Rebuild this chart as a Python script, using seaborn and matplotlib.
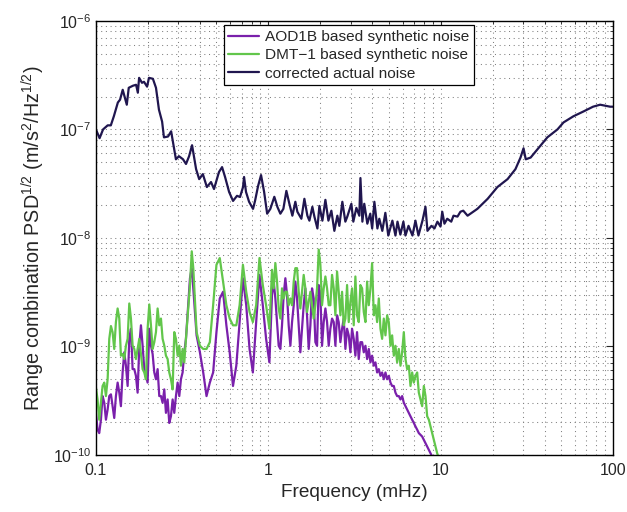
import numpy as np
import pandas as pd
import matplotlib
matplotlib.use('Agg')
import matplotlib.pyplot as plt
import matplotlib.ticker as mticker
import seaborn as sns

# ---- DATA ----
# corrected actual noise: frequency in mHz, PSD in units of 1e-8
nav_freq = [0.1, 0.105, 0.11, 0.117, 0.122, 0.127, 0.134, 0.138, 0.143, 0.151, 0.155, 0.164,
            0.171, 0.175, 0.178, 0.185, 0.19, 0.198, 0.203, 0.214, 0.223, 0.232, 0.242, 0.248,
            0.262, 0.273, 0.28, 0.291, 0.303, 0.32, 0.333, 0.347, 0.361, 0.381, 0.397, 0.417,
            0.44, 0.465, 0.484, 0.517, 0.539, 0.561, 0.592, 0.624, 0.658, 0.685, 0.713, 0.723,
            0.742, 0.773, 0.815, 0.837, 0.872, 0.907, 0.945, 0.984,
            1.027, 1.083, 1.128, 1.174, 1.222, 1.272, 1.324, 1.378, 1.434, 1.473, 1.554, 1.618,
            1.684, 1.73, 1.8, 1.849, 1.925, 1.977, 2.058, 2.142, 2.23, 2.32, 2.414, 2.513, 2.58,
            2.686, 2.796, 2.87, 3.03, 3.11, 3.24, 3.37, 3.42, 3.51, 3.6, 3.75, 3.9, 4.0, 4.12,
            4.29, 4.4, 4.58, 4.77, 4.96, 5.24, 5.46, 5.61, 5.83, 6.07, 6.24, 6.5, 6.85, 7.13,
            7.42, 7.83, 8.15, 8.37, 8.83, 9.19, 9.56, 9.96, 10.2, 10.5, 10.9, 11.5, 11.85, 12.5,
            13.0, 13.5, 14.3, 16.3, 18.7, 21.3, 24.4, 27.1, 29.0, 30.2, 31.1, 33.2, 36.5, 41.5,
            47.5, 51.5, 58.7, 67.0, 76.4, 84.0, 96.0, 100.0]
nav_psd = [10.0, 8.3, 10.0, 10.9, 10.9, 13.2, 17.7, 18.8, 23.2, 16.9, 24.2, 25.3,
           25.8, 21.8, 29.9, 26.9, 27.5, 24.8, 29.9, 29.3, 24.2, 15.2, 11.8, 8.45,
           8.6, 9.6, 7.6, 5.3, 5.66, 5.3, 4.8, 5.66, 7.15, 4.3, 3.48, 3.87,
           2.94, 3.27, 2.82, 4.04, 4.49, 3.64, 2.65, 2.19, 2.44, 2.38, 2.94, 3.64,
           2.65, 2.15, 1.85, 2.19, 3.01, 3.79, 2.65, 1.67,
           1.85, 2.39, 1.93, 1.67, 1.85, 2.71, 2.06, 1.6, 2.15, 1.74, 1.5, 2.29,
           1.6, 1.44, 1.93, 1.57, 1.22, 1.97, 1.44, 2.24, 1.44, 1.78, 1.16, 1.6, 1.29,
           2.15, 1.41, 1.57, 2.06, 1.41, 1.89, 1.6, 3.56, 1.41, 2.06, 1.35, 1.67, 1.22, 2.15,
           1.22, 1.5, 1.16, 1.7, 1.05, 1.44, 1.05, 1.41, 1.07, 1.41, 1.05, 1.29, 1.05, 1.44,
           1.05, 1.44, 1.93, 1.16, 1.29, 1.22, 1.41, 1.27, 1.74, 1.35, 1.5, 1.41, 1.6, 1.57,
           1.74, 1.78, 1.6, 1.85, 2.29, 2.94, 3.48, 4.3, 5.5, 6.7, 5.3, 5.5, 6.6, 8.45,
           10.0, 11.6, 13.2, 14.6, 16.2, 16.9, 16.2, 16.2]

# synthetic noise: common frequency grid in mHz, PSD in units of 1e-9
syn_freq = [0.1, 0.1022, 0.1045, 0.1069, 0.1093, 0.1118, 0.1143, 0.1169, 0.1195, 0.1222,
            0.1249, 0.1277, 0.1306, 0.1336, 0.1366, 0.1396, 0.1428, 0.146, 0.1493, 0.1527,
            0.1561, 0.1596, 0.1632, 0.1669, 0.1706, 0.1745, 0.1784, 0.1824, 0.1865, 0.1907,
            0.195, 0.1994, 0.2039, 0.2085, 0.2132, 0.218, 0.2229, 0.2279, 0.233, 0.2383,
            0.2436, 0.2491, 0.2547, 0.2605, 0.2663, 0.2723, 0.2785, 0.2847, 0.2911, 0.2977,
            0.3044, 0.3112, 0.3182, 0.3254, 0.3327,
            0.3511, 0.3595, 0.367, 0.3835, 0.4009, 0.419, 0.4379, 0.4577, 0.4784, 0.5,
            0.5226, 0.5462, 0.5709, 0.5967, 0.6236, 0.6518, 0.6813, 0.7121, 0.7442, 0.7779,
            0.813, 0.8498, 0.8882, 0.9283, 0.9703, 1.014,
            1.05, 1.074, 1.098, 1.123, 1.148, 1.174, 1.2, 1.227, 1.255, 1.283, 1.312, 1.342,
            1.372, 1.403, 1.434, 1.467, 1.5, 1.533, 1.568, 1.603, 1.639, 1.676, 1.714, 1.753,
            1.792, 1.832, 1.874, 1.916, 1.959, 2.003, 2.048, 2.094, 2.142, 2.19, 2.239, 2.289,
            2.341, 2.394, 2.448, 2.503, 2.559, 2.617, 2.676, 2.736, 2.798, 2.861, 2.925, 2.991,
            3.058, 3.127, 3.197, 3.269, 3.343, 3.418,
            3.497, 3.576, 3.657, 3.739, 3.823, 3.909, 3.997, 4.087, 4.179, 4.274, 4.37, 4.468,
            4.569, 4.672, 4.777, 4.885, 4.995, 5.107, 5.222, 5.34, 5.46, 5.583, 5.709, 5.838,
            5.969, 6.104, 6.241, 6.382, 6.526, 6.673, 6.823, 6.977, 7.134, 7.295, 7.459, 7.627,
            7.799, 7.975, 8.154, 8.338, 8.526, 8.718, 8.914, 9.115, 9.32, 9.53, 9.745]

aod_psd = [0.243, 0.17, 0.158, 0.21, 0.347, 0.301, 0.21, 0.261, 0.347, 0.36,
           0.28, 0.218, 0.347, 0.462, 0.373, 0.28, 0.573, 0.879, 0.661, 0.43,
           1.17, 1.45, 0.615, 0.615, 0.533, 0.373, 1.014, 1.56, 1.014, 0.615,
           0.533, 0.462, 1.45, 1.014, 0.849, 0.573, 0.496, 0.615, 0.347, 0.347,
           0.301, 0.4, 0.243, 0.323, 0.196, 0.226, 0.323, 0.243, 0.347, 0.462,
           0.347, 0.496, 0.573, 0.879, 1.17,
           4.24, 5.25, 3.42, 1.26, 0.879, 0.573, 0.347, 0.462, 0.573, 1.35,
           2.76, 3.18, 1.56, 0.879, 0.43, 0.661, 1.67, 4.24, 2.39, 0.944,
           0.573, 1.67, 4.55, 2.39, 1.17, 0.71,
           2.97, 3.95, 2.76, 1.67, 1.01, 0.944, 1.56, 2.97, 4.24, 2.97, 1.56, 1.01,
           1.67, 2.39, 3.95, 2.76, 1.56, 0.879, 1.45, 2.39, 3.42, 1.93, 0.944, 1.56,
           3.42, 2.76, 1.09, 1.01, 3.67, 2.97, 1.01, 1.67, 2.23, 1.67, 1.01, 1.45,
           1.8, 1.67, 1.01, 1.93, 1.67, 1.09, 1.45, 1.8, 0.944, 1.45, 1.26, 0.879,
           1.45, 1.17, 0.818, 1.35, 0.762, 1.09,
           1.09, 0.879, 1.01, 0.762, 0.944, 0.71, 0.818, 0.661, 0.71, 0.573, 0.615, 0.533,
           0.573, 0.496, 0.573, 0.496, 0.533, 0.462, 0.43, 0.43, 0.373, 0.347, 0.347, 0.323,
           0.347, 0.301, 0.28, 0.261, 0.243, 0.226, 0.21, 0.196, 0.182, 0.17, 0.158, 0.1525,
           0.147, 0.137, 0.1275, 0.119, 0.1105, 0.103, 0.096, None, None, None, None]

dmt_psd = [0.415, 0.323, 0.21, 0.301, 0.43, 0.462, 0.347, 0.496, 1.17, 1.535,
           1.35, 0.944, 1.675, 2.23, 1.8, 0.818, 0.849, 0.762, 1.014, 1.17,
           2.48, 1.8, 1.014, 0.944, 0.762, 0.944, 1.17, 0.849, 0.615, 0.573,
           0.496, 1.45, 2.43, 1.56, 0.944, 1.09, 1.35, 2.23, 1.56, 1.8,
           1.17, 1.014, 0.818, 0.762, 0.573, 0.496, 0.4, 1.35, 1.17, 0.818,
           1.014, 0.661, 0.944, 0.71, 1.17,
           3.67, 7.51, 5.25, 1.35, 1.01, 0.944, 0.944, 1.09, 2.39, 5.64,
           6.51, 3.95, 2.39, 1.8, 1.56, 1.56, 2.39, 5.64, 3.18, 2.07,
           1.67, 2.39, 6.51, 3.67, 2.39, 1.45,
           5.07, 3.42, 5.85, 3.95, 2.23, 1.8, 3.42, 2.76, 3.18, 3.18, 2.39, 2.76,
           2.39, 3.95, 5.25, 5.25, 3.18, 2.23, 3.18, 4.55, 3.42, 2.07, 2.57, 3.18,
           2.39, 1.8, 2.39, 3.42, 7.79, 5.64, 2.39, 3.42, 4.4, 3.42, 2.39, 2.39,
           4.55, 3.42, 1.93, 4.89, 3.18, 1.93, 3.18, 1.56, 1.8, 3.67, 1.67, 2.57,
           3.42, 1.56, 4.4, 1.93, 1.67, 3.67,
           3.42, 2.07, 1.67, 3.95, 2.39, 3.42, 5.85, 1.93, 2.39, 1.67, 2.76, 1.45,
           1.17, 1.8, 1.26, 1.93, 1.67, 1.01, 1.26, 0.818, 1.01, 0.71, 0.944, 0.661,
           0.879, 1.35, 0.762, 0.615, 0.661, 0.43, 0.573, 0.462, 0.533, 0.573, 0.373, 0.323,
           0.28, 0.43, 0.347, 0.226, 0.21, 0.182, 0.158, 0.137, 0.119, 0.103, 0.093]

labels = ['AOD1B based synthetic noise', 'DMT\u22121 based synthetic noise', 'corrected actual noise']
colors = ['#7a20ab', '#62c64b', '#20164f']
x_ticks = [0.1, 1, 10, 100]
x_ticklabels = ['0.1', '1', '10', '100']
y_ticks = [1e-10, 1e-9, 1e-8, 1e-7, 1e-6]

# ---- BUILD TABLES ----
syn_df = pd.DataFrame({
    'freq': syn_freq,
    'aod': np.array(aod_psd, dtype=float) * 1e-9,
    'dmt': np.array(dmt_psd, dtype=float) * 1e-9,
})
nav_df = pd.DataFrame({'freq': nav_freq, 'psd': np.array(nav_psd) * 1e-8})

# ---- PLOT ----
sns.set_style('white')
plt.rcParams['font.family'] = ['Liberation Sans', 'DejaVu Sans']
plt.rcParams['mathtext.default'] = 'regular'

fig, ax = plt.subplots(figsize=(6.27, 5.12), dpi=100)
fig.subplots_adjust(left=0.153, right=0.978, bottom=0.112, top=0.959)

sns.lineplot(data=syn_df, x='freq', y='aod', ax=ax, color=colors[0], lw=1.6,
             label=labels[0], estimator=None, sort=False)
sns.lineplot(data=syn_df, x='freq', y='dmt', ax=ax, color=colors[1], lw=1.6,
             label=labels[1], estimator=None, sort=False)
sns.lineplot(data=nav_df, x='freq', y='psd', ax=ax, color=colors[2], lw=1.6,
             label=labels[2], estimator=None, sort=False)

ax.set_xscale('log')
ax.set_yscale('log')
ax.set_xlim(0.1, 100)
ax.set_ylim(1e-10, 1e-6)

ax.xaxis.set_major_locator(mticker.FixedLocator(x_ticks))
ax.xaxis.set_major_formatter(mticker.FixedFormatter(x_ticklabels))
ax.xaxis.set_minor_locator(mticker.LogLocator(base=10, subs=np.arange(2, 10)))
ax.xaxis.set_minor_formatter(mticker.NullFormatter())
ax.yaxis.set_major_locator(mticker.FixedLocator(y_ticks))
ax.yaxis.set_major_formatter(mticker.LogFormatterSciNotation())
ax.yaxis.set_minor_locator(mticker.LogLocator(base=10, subs=np.arange(2, 10), numticks=20))
ax.yaxis.set_minor_formatter(mticker.NullFormatter())

ax.grid(True, which='both', linestyle=(0, (1, 3.5)), color='#808080', linewidth=0.75)
ax.tick_params(which='both', direction='in', top=True, right=True, labelsize=11.5)
ax.tick_params(which='major', length=5)
ax.tick_params(which='minor', length=2.5)
ax.tick_params(axis='x', pad=6)
for sp in ax.spines.values():
    sp.set_color('black')
    sp.set_linewidth(1.0)

ax.set_xlabel('Frequency (mHz)', fontsize=13.7)
ax.set_ylabel('Range combination PSD$^{1/2}$ (m/s$^2$/Hz$^{1/2}$)', fontsize=14.2)

leg = ax.legend(loc='upper left', bbox_to_anchor=(0.247, 0.99), fontsize=11.1,
                frameon=True, fancybox=False, framealpha=1, edgecolor='black',
                handlelength=2.0, handletextpad=0.4, borderpad=0.3, labelspacing=0.28,
                borderaxespad=0)
leg.get_frame().set_linewidth(0.9)

plt.savefig('out.png', dpi=100)
plt.close()
